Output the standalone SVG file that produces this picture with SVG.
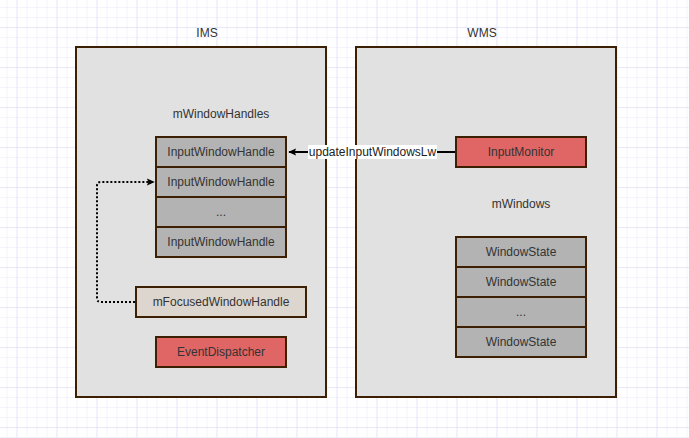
<svg xmlns="http://www.w3.org/2000/svg" width="689" height="438" viewBox="0 0 689 438">
<defs>
<pattern id="minor" width="10" height="10" patternUnits="userSpaceOnUse" x="6.5" y="7">
<path d="M0 0H10M0 0V10" fill="none" stroke="#e9e9fa" stroke-width="1"/>
</pattern>
<pattern id="major" width="40" height="40" patternUnits="userSpaceOnUse" x="16.5" y="27">
<path d="M0 0H40M0 0V40" fill="none" stroke="#dcdcf6" stroke-width="1"/>
</pattern>
<marker id="arr" viewBox="0 0 10 10" refX="9" refY="5" markerWidth="8" markerHeight="8" orient="auto" markerUnits="userSpaceOnUse">
<path d="M0 0.5L10 5L0 9.5L2 5Z" fill="#000"/>
</marker>
</defs>
<style>
text{font-family:"Liberation Sans",Arial,sans-serif;font-size:12px;fill:#333;text-anchor:middle;dominant-baseline:central}
.box{stroke:#3d1f04;stroke-width:2}
.cont{fill:#e1e1e1}
.cell{fill:#b3b3b3}
.red{fill:#e06666}
.beige{fill:#ddd6cf}
</style>
<rect width="689" height="438" fill="#fff"/>
<rect width="689" height="438" fill="url(#minor)"/>
<rect width="689" height="438" fill="url(#major)"/>

<g id="ims">
<rect class="box cont" x="76" y="47" width="250" height="350"/>
<text x="207" y="33">IMS</text>
<text x="221" y="114">mWindowHandles</text>
</g>
<g id="wms">
<rect class="box cont" x="356" y="47" width="260" height="350"/>
<text x="482" y="33">WMS</text>
<text x="521" y="204">mWindows</text>
</g>

<g id="iwh1"><rect class="box cell" x="156" y="137" width="130" height="30"/><text x="221" y="152">InputWindowHandle</text></g>
<g id="iwh2"><rect class="box cell" x="156" y="167" width="130" height="30"/><text x="221" y="182">InputWindowHandle</text></g>
<g id="iwh3"><rect class="box cell" x="156" y="197" width="130" height="30"/><text x="221" y="212">...</text></g>
<g id="iwh4"><rect class="box cell" x="156" y="227" width="130" height="30"/><text x="221" y="242">InputWindowHandle</text></g>

<g id="focused"><rect class="box beige" x="136" y="287" width="170" height="30"/><text x="221" y="302">mFocusedWindowHandle</text></g>
<g id="dispatcher"><rect class="box red" x="156" y="337" width="130" height="30"/><text x="221" y="352">EventDispatcher</text></g>

<g id="monitor"><rect class="box red" x="456" y="137" width="130" height="30"/><text x="521" y="152">InputMonitor</text></g>

<g id="ws1"><rect class="box cell" x="456" y="237" width="130" height="30"/><text x="521" y="252">WindowState</text></g>
<g id="ws2"><rect class="box cell" x="456" y="267" width="130" height="30"/><text x="521" y="282">WindowState</text></g>
<g id="ws3"><rect class="box cell" x="456" y="297" width="130" height="30"/><text x="521" y="312">...</text></g>
<g id="ws4"><rect class="box cell" x="456" y="327" width="130" height="30"/><text x="521" y="342">WindowState</text></g>

<g id="connectors">
<path d="M455 152H289" fill="none" stroke="#000" stroke-width="2" marker-end="url(#arr)"/>
<rect x="308" y="145" width="129" height="14" fill="#fff"/>
<text x="372.5" y="152" style="fill:#222">updateInputWindowsLw</text>
<path d="M135 302H101Q97 302 97 298V186Q97 182 101 182H154" fill="none" stroke="#000" stroke-width="2" stroke-dasharray="2 2" marker-end="url(#arr)"/>
</g>
</svg>
